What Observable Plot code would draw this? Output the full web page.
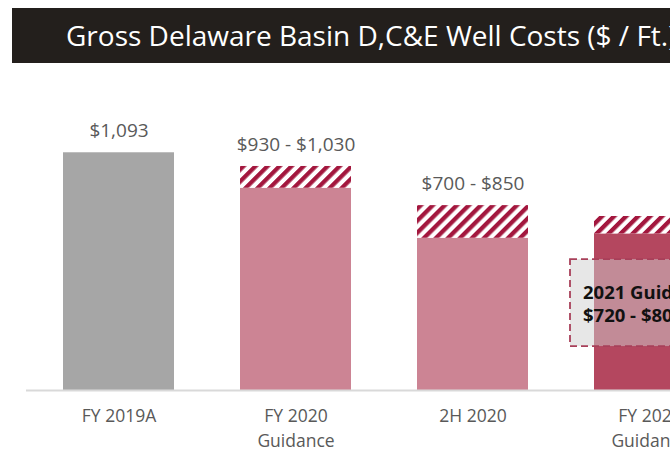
<!DOCTYPE html>
<html>
<head>
<meta charset="utf-8">
<script src="https://cdn.jsdelivr.net/npm/d3@7"></script>
<script src="https://cdn.jsdelivr.net/npm/@observablehq/plot@0.6"></script>
<style>
  html, body { margin: 0; padding: 0; background: #fff; }
  body { width: 670px; height: 453px; overflow: hidden; position: relative; font-family: "Open Sans", sans-serif; }
  #title { position: absolute; left: 12px; top: 8px; width: 720px; height: 55px; background: #231f1c;
    color: #fff; font-size: 28px; line-height: 55px; padding-left: 54px; box-sizing: border-box; white-space: nowrap; }
  #chart { position: absolute; left: 0; top: 70px; width: 780px; }
</style>
</head>
<body>
<div id="title">Gross Delaware Basin D,C&amp;E Well Costs ($ / Ft.)</div>
<div id="chart"></div>
<script>
const categories = ["FY 2019A", "FY 2020 Guidance", "2H 2020", "FY 2021 Guidance"];
const axisLabels = ["FY 2019A", "FY 2020\nGuidance", "2H 2020", "FY 2021\nGuidance"];
const lowValues = [1093, 930, 700, 720];
const highValues = [1093, 1030, 850, 800];
const valueLabels = ["$1,093", "$930 - $1,030", "$700 - $850", ""];
const barColors = ["#a6a6a6", "#cc8494", "#cc8494", "#b4475f"];
const boxCategory = "FY 2021 Guidance";
const boxLabel = "2021 Guidance\n$720 - $800";

const data = categories.map((c, i) => ({
  cat: c, lo: lowValues[i], hi: highValues[i], label: valueLabels[i], axis: axisLabels[i], color: barColors[i]
}));
const box = [{cat: boxCategory, y1: 202, y2: 602, mid: 402, text: boxLabel}];

const svg = Plot.plot({
  width: 770, height: 383,
  marginLeft: 26, marginRight: 28, marginTop: 59, marginBottom: 63,
  style: {fontFamily: "'Open Sans', sans-serif", background: "transparent"},
  x: {domain: categories, paddingInner: 0.375, paddingOuter: 0.2, axis: null},
  y: {domain: [0, 1200], axis: null},
  color: {type: "identity"},
  marks: [
    Plot.barY(data, {x: "cat", y: "lo", fill: "color"}),
    Plot.barY(data.filter(d => d.hi > d.lo), {x: "cat", y1: "lo", y2: "hi", fill: "url(#hatch)"}),
    Plot.ruleY([0], {stroke: "#d9d9d9", strokeWidth: 2}),
    Plot.text(data, {x: "cat", y: "hi", text: "label", dy: -22, fontSize: 19, fill: "#595959"}),
    Plot.text(data, {x: "cat", y: 0, text: "axis", lineAnchor: "top", dy: 14, fontSize: 17.5, fill: "#595959", lineHeight: 1.42}),
    Plot.rect(box, {x: "cat", y1: "y1", y2: "y2", insetLeft: -24, insetRight: -23, fill: "#cfcfcf", fillOpacity: 0.5,
      stroke: "#a8405a", strokeDasharray: "7,4", strokeWidth: 1.8}),
    Plot.text(box, {x: "cat", y: "mid", text: "text", textAnchor: "start", dx: -67, fontWeight: "bold", fontSize: 18.5, fill: "#111", lineHeight: 1.22})
  ]
});
svg.style.maxWidth = "none";
const defs = d3.select(svg).insert("defs", ":first-child");
const pat = defs.append("pattern").attr("id", "hatch").attr("patternUnits", "userSpaceOnUse")
  .attr("width", 8.5).attr("height", 8.5).attr("patternTransform", "rotate(45)");
pat.append("rect").attr("width", 8.5).attr("height", 8.5).attr("fill", "#fff");
pat.append("rect").attr("width", 4.3).attr("height", 8.5).attr("fill", "#a3173e");
document.getElementById("chart").appendChild(svg);
</script>
</body>
</html>
